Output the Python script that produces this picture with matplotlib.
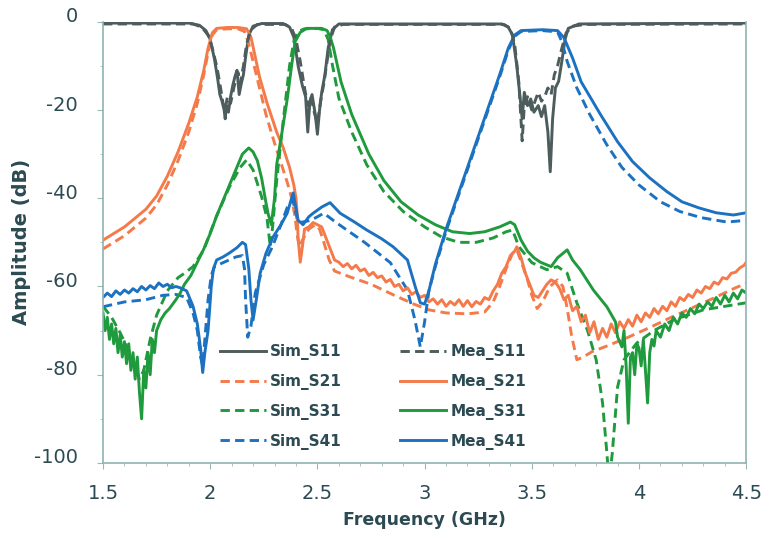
import matplotlib
matplotlib.use("Agg")
import matplotlib.pyplot as plt
from matplotlib.ticker import MultipleLocator
from matplotlib.transforms import ScaledTranslation

# ---------------- data (GHz, dB) ----------------
sim_s11_f = [1.50, 1.90, 1.95, 1.98, 2.00, 2.02, 2.035, 2.045, 2.055, 2.065, 2.07, 2.075, 2.085, 2.095, 2.105,
             2.115, 2.125, 2.135, 2.145, 2.155, 2.165, 2.18, 2.20, 2.24, 2.34, 2.37, 2.39, 2.41, 2.43, 2.445,
             2.455, 2.465, 2.475, 2.49, 2.50, 2.51, 2.52, 2.535, 2.55, 2.57, 2.60, 3.36, 3.39, 3.41, 3.43,
             3.445, 3.455, 3.465, 3.48, 3.495, 3.51, 3.53, 3.545, 3.56, 3.575, 3.586, 3.597, 3.61, 3.625,
             3.64, 3.655, 3.67, 3.72, 4.50]
sim_s11_db = [-0.3, -0.3, -0.8, -2, -4, -8.5, -13, -16.5, -18, -20, -22, -19, -20.5, -17, -14.5,
              -12.5, -11, -16.5, -14, -12, -8, -3, -1, -0.4, -0.4, -1.2, -3.5, -10, -14.5, -17,
              -25, -18, -16.5, -21, -25.5, -20, -16, -12, -6, -1.8, -0.5, -0.5, -1.2, -3, -10,
              -17, -22, -16, -19, -17.5, -20.5, -19, -21.5, -19, -25, -34, -22, -15, -13.5,
              -9, -4, -1.5, -0.5, -0.3]

mea_s11_f = [1.50, 1.92, 1.96, 1.99, 2.01, 2.03, 2.045, 2.06, 2.07, 2.08, 2.095, 2.11, 2.12, 2.13, 2.14,
             2.155, 2.17, 2.19, 2.22, 2.35, 2.38, 2.40, 2.42, 2.44, 2.455, 2.47, 2.485, 2.50, 2.515, 2.53,
             2.545, 2.56, 2.58, 2.62, 3.37, 3.40, 3.42, 3.44, 3.455, 3.465, 3.48, 3.50, 3.515, 3.53,
             3.545, 3.56, 3.575, 3.59, 3.605, 3.62, 3.64, 3.66, 3.69, 3.75, 4.50]
mea_s11_db = [-0.5, -0.5, -1.2, -3, -6, -10, -14, -18.5, -20, -17, -18.5, -15, -13, -11.5, -14,
              -10, -5, -1.8, -0.6, -0.6, -1.5, -4, -9, -15, -19, -17, -20.5, -23, -18, -14,
              -9, -4, -1.2, -0.6, -0.6, -1.5, -5, -14, -27, -19, -17, -20, -18, -16,
              -18, -17, -15, -16.5, -12, -10, -6, -2.5, -1, -0.6, -0.5]

sim_s21_f = [1.50, 1.55, 1.60, 1.65, 1.70, 1.75, 1.80, 1.85, 1.90, 1.94, 1.97, 1.99, 2.01, 2.03, 2.08,
             2.13, 2.16, 2.18, 2.20, 2.23, 2.26, 2.30, 2.33, 2.36, 2.38, 2.395, 2.405, 2.415, 2.43, 2.46,
             2.49, 2.51, 2.53, 2.555, 2.58, 2.65, 2.75, 2.85, 2.95, 3.02, 3.10, 3.20, 3.28, 3.32, 3.35,
             3.38, 3.41, 3.43, 3.455, 3.48, 3.50, 3.525, 3.55, 3.585, 3.62, 3.645, 3.665, 3.685, 3.71,
             3.74, 3.78, 3.85, 3.95, 4.05, 4.15, 4.25, 4.35, 4.45, 4.50]
sim_s21_db = [-51.5, -50, -48.5, -46.5, -44.5, -41.5, -37, -31.5, -25, -18.5, -12, -7, -3, -1.8, -1.6,
              -1.6, -2.2, -5, -9, -15, -21, -27.5, -32, -36.5, -40, -44, -48, -51, -49.5, -47,
              -46, -47, -50, -54, -56.5, -57.8, -59.5, -61.8, -64, -65.3, -66, -66.2, -65.8, -63.5, -60,
              -56, -52.5, -51.7, -55, -58.5, -62, -65, -63.5, -60, -58.5, -60, -65, -71, -76.6,
              -76, -74.8, -73.5, -71.5, -69.3, -67, -64.8, -62.6, -60.3, -59.3]

mea_s21_f = [1.50, 1.55, 1.60, 1.65, 1.70, 1.75, 1.80, 1.85, 1.90, 1.94, 1.97, 1.99, 2.01, 2.03, 2.08,
             2.13, 2.17, 2.19, 2.20, 2.23, 2.265, 2.31, 2.34, 2.37, 2.39, 2.40, 2.405, 2.41, 2.42, 2.43,
             2.44, 2.46, 2.48, 2.50, 2.52, 2.54, 2.56, 2.58, 2.60, 2.62, 2.64, 2.66, 2.68, 2.70, 2.72,
             2.74, 2.76, 2.78, 2.80, 2.82, 2.84, 2.86, 2.88, 2.90, 2.92, 2.94, 2.96, 2.98, 3.00, 3.02,
             3.04, 3.06, 3.08, 3.10, 3.12, 3.14, 3.16, 3.18, 3.20, 3.22, 3.24, 3.26, 3.28, 3.30, 3.32,
             3.34, 3.36, 3.38, 3.40, 3.42, 3.43, 3.45, 3.47, 3.49, 3.51, 3.53, 3.55, 3.57, 3.59, 3.61,
             3.63, 3.65, 3.67, 3.69, 3.71, 3.73, 3.75, 3.77, 3.79, 3.81, 3.83, 3.85, 3.87, 3.89, 3.91,
             3.93, 3.95, 3.97, 3.99, 4.01, 4.03, 4.05, 4.07, 4.09, 4.11, 4.13, 4.15, 4.17, 4.19, 4.21,
             4.23, 4.25, 4.27, 4.29, 4.31, 4.33, 4.35, 4.37, 4.39, 4.41, 4.43, 4.45, 4.47, 4.49, 4.50]
mea_s21_db = [-49.5, -48, -46.5, -44.5, -42.5, -39.5, -35, -29.5, -23, -17, -11, -6, -2.5, -1.5, -1.3,
              -1.3, -1.6, -3.5, -5.7, -12.5, -18.4, -25, -28.5, -33, -37, -40, -43, -49, -54.5, -51,
              -47, -46.5, -45.5, -46, -46.5, -49, -51.5, -54, -54.5, -55.5, -54.8, -56, -55.2, -56.5, -56,
              -57.5, -56.8, -58, -57.6, -59, -58.4, -60, -59.5, -61, -60.3, -61.8, -61.2, -62.5, -62, -63.5,
              -62.8, -64, -63, -64.5, -63.4, -64.2, -63, -64.5, -63.2, -64.6, -63.4, -64, -62.5, -63, -61,
              -59.5, -57, -55.5, -53, -52, -51, -53.5, -57, -59.5, -62, -62.5, -61, -59.5, -58.5, -59,
              -60.5, -63, -62, -65.5, -64.5, -68, -66.5, -70.5, -68, -72, -69.5, -71.5, -68.5, -70.5, -68,
              -69.5, -67.5, -69, -66.5, -68, -66, -67, -65, -66.2, -64.5, -65.5, -63.5, -64.5, -62.5, -63.2,
              -61.8, -62.5, -60.8, -61.5, -60, -60.5, -59, -59.5, -58, -58.3, -57, -56.8, -55.8, -55.2, -54.5]

sim_s31_f = [1.50, 1.54, 1.58, 1.62, 1.65, 1.67, 1.69, 1.72, 1.75, 1.80, 1.85, 1.88, 1.92, 1.97, 2.03,
             2.09, 2.14, 2.17, 2.20, 2.24, 2.265, 2.28, 2.29, 2.31, 2.33, 2.35, 2.37, 2.39, 2.41, 2.44,
             2.50, 2.53, 2.55, 2.57, 2.60, 2.66, 2.73, 2.81, 2.90, 3.00, 3.08, 3.16, 3.24, 3.32, 3.38,
             3.41, 3.44, 3.50, 3.57, 3.62, 3.665, 3.71, 3.76, 3.80, 3.83, 3.85, 3.86, 3.875, 3.90, 3.93,
             3.99, 4.07, 4.16, 4.30, 4.50]
sim_s31_db = [-64.5, -67, -70.5, -74.5, -78, -81, -79, -72, -66.5, -61, -58, -57, -55.5, -51.7, -44,
              -37.4, -33, -31.3, -33.6, -39.7, -44.5, -51, -47, -36, -27, -18.5, -10, -4.5, -2.2, -1.6,
              -1.5, -1.8, -4, -9.8, -17.3, -25, -32.4, -38.5, -43, -46.5, -48.8, -50, -50, -49, -47.6,
              -47.2, -51, -54.6, -56.2, -55.5, -57, -63.7, -70, -76.6, -86.4, -97.7, -104, -98, -82.8, -76.6,
              -72.8, -70, -67.6, -65.3, -63.7]

mea_s31_f = [1.50, 1.51, 1.52, 1.53, 1.54, 1.55, 1.56, 1.57, 1.58, 1.59, 1.60, 1.61, 1.62, 1.63, 1.64,
             1.65, 1.66, 1.67, 1.68, 1.69, 1.70, 1.71, 1.72, 1.73, 1.74, 1.75, 1.77, 1.79, 1.81, 1.84,
             1.86, 1.88, 1.91, 1.94, 1.97, 2.00, 2.03, 2.06, 2.09, 2.12, 2.15, 2.18, 2.20, 2.22, 2.24,
             2.26, 2.27, 2.285, 2.30, 2.31, 2.335, 2.36, 2.38, 2.396, 2.42, 2.45, 2.52, 2.545, 2.56,
             2.575, 2.61, 2.66, 2.74, 2.81, 2.89, 2.97, 3.05, 3.13, 3.21, 3.28, 3.35, 3.40, 3.42, 3.45,
             3.48, 3.51, 3.54, 3.59, 3.62, 3.665, 3.69, 3.726, 3.787, 3.85, 3.89, 3.90, 3.92, 3.93, 3.94,
             3.95, 3.96, 3.97, 3.98, 3.99, 4.00, 4.01, 4.02, 4.03, 4.04, 4.05, 4.06, 4.07, 4.08, 4.10,
             4.12, 4.14, 4.16, 4.18, 4.20, 4.22, 4.24, 4.26, 4.28, 4.30, 4.32, 4.34, 4.36, 4.38, 4.40,
             4.42, 4.44, 4.46, 4.48, 4.50]
mea_s31_db = [-66, -70, -67, -72, -68.5, -73, -69.5, -75, -71, -76, -72.5, -77.5, -73, -79, -75,
              -81, -76, -84, -90, -79, -83, -75, -80, -72, -75, -70, -67.5, -66, -65, -63,
              -61.5, -59.5, -57.5, -54.5, -51.5, -48, -44, -40.5, -37, -33.5, -30, -28.6, -29.5, -31.5, -35.5,
              -41, -43.5, -46, -40, -32.4, -25, -17.3, -9.8, -4.5, -2.4, -1.5, -1.5, -2, -3.5,
              -5.9, -13.6, -21, -30, -36, -40.8, -43.8, -46, -47.6, -48, -47.6, -46.5, -45.4, -46, -49.5,
              -52, -53.5, -54.5, -55.5, -53.5, -51.7, -54, -56.2, -60.8, -64.6, -68, -71.4, -73.7, -70, -78,
              -91, -76, -75, -80, -73, -74, -78, -72, -79, -86.4, -75, -72, -73.5, -70, -71.5,
              -68.5, -70, -67, -68.5, -66, -67, -65, -66.2, -64, -65, -63.5, -64.5, -62.5, -64, -62,
              -63.5, -61.5, -62.8, -60.8, -61.5]

sim_s41_f = [1.50, 1.60, 1.70, 1.78, 1.84, 1.89, 1.92, 1.94, 1.955, 1.965, 1.975, 1.99, 2.005, 2.02, 2.06,
             2.12, 2.15, 2.16, 2.165, 2.175, 2.19, 2.21, 2.25, 2.29, 2.33, 2.36, 2.385, 2.41, 2.47, 2.53,
             2.59, 2.72, 2.84, 2.92, 2.955, 2.98, 3.00, 3.02, 3.05, 3.10, 3.15, 3.20, 3.25, 3.30, 3.35,
             3.39, 3.42, 3.45, 3.55, 3.62, 3.64, 3.665, 3.71, 3.77, 3.85, 3.92, 4.00, 4.10, 4.19, 4.29,
             4.41, 4.50]
sim_s41_db = [-64.6, -63.5, -63, -62, -61.8, -62.5, -66, -70, -76, -78, -72, -63, -57.5, -55.5, -54.6,
              -53.3, -53, -56, -63, -71.5, -69, -61.5, -55, -51, -46, -42, -40.4, -45.6, -45, -43.4,
              -45.6, -50, -54.6, -60.8, -67.6, -73.7, -68, -61, -55.5, -47.5, -40.5, -33.5, -26.5, -19.5, -12.5,
              -6.5, -3.3, -2.2, -2, -2.3, -4.5, -9, -15, -21, -27.9, -33, -37, -40.8, -43, -44.4,
              -45.4, -45]

mea_s41_f = [1.50, 1.52, 1.54, 1.56, 1.58, 1.60, 1.62, 1.64, 1.66, 1.68, 1.70, 1.72, 1.74, 1.76, 1.78,
             1.80, 1.82, 1.84, 1.86, 1.89, 1.92, 1.94, 1.955, 1.965, 1.975, 1.99, 2.005, 2.015, 2.03, 2.06,
             2.09, 2.125, 2.15, 2.165, 2.18, 2.19, 2.20, 2.215, 2.233, 2.26, 2.293, 2.33, 2.359, 2.387,
             2.41, 2.433, 2.46, 2.48, 2.52, 2.559, 2.606, 2.67, 2.73, 2.80, 2.853, 2.92, 2.956, 2.98,
             3.00, 3.02, 3.05, 3.10, 3.15, 3.20, 3.25, 3.30, 3.35, 3.39, 3.42, 3.45, 3.55, 3.62, 3.65,
             3.69, 3.73, 3.82, 3.90, 3.97, 4.05, 4.13, 4.20, 4.28, 4.36, 4.44, 4.50]
mea_s41_db = [-62.5, -61.5, -62.3, -61, -61.8, -60.8, -61.5, -60.5, -61.2, -60, -60.8, -59.8, -60.5, -59.2, -60,
              -59.5, -60.3, -60, -60.3, -61, -64.5, -68.5, -74, -79.5, -75, -70, -60, -56, -54, -53.3,
              -52.4, -51.2, -50, -50.5, -56, -63, -67.6, -63, -57, -52.5, -48.8, -46, -43.4, -38.8,
              -45, -46, -44.2, -43.4, -42, -41, -43.4, -45.3, -47.2, -49.2, -51, -54, -60, -63.7,
              -64, -61, -55, -47, -40, -33, -26, -19, -12, -6, -3, -2, -1.8, -2, -3.6,
              -8.2, -13.6, -21, -27.2, -31.7, -35.4, -38.5, -40.8, -42.2, -43.3, -43.8, -43.3]

x_ticks = [1.5, 2, 2.5, 3, 3.5, 4, 4.5]
x_tick_labels = ["1.5", "2", "2.5", "3", "3.5", "4", "4.5"]
y_ticks = [0, -20, -40, -60, -80, -100]
y_tick_labels = ["0", "-20", "-40", "-60", "-80", "-100"]

# ---------------- style ----------------
C11 = "#4d5c5c"
C21 = "#f47a4a"
C31 = "#1f9a3c"
C41 = "#1c72c0"
TXT = "#2c4a52"
LW = 2.1
DASH = (0, (3.2, 1.8))

fig = plt.figure(figsize=(7.63, 5.44), dpi=100)
ax = fig.add_axes([0.135, 0.149, 0.843, 0.811])

h_sim11, = ax.plot(sim_s11_f, sim_s11_db, color=C11, lw=LW, ls="-", label="Sim_S11")
h_sim21, = ax.plot(sim_s21_f, sim_s21_db, color=C21, lw=LW, ls=DASH, label="Sim_S21")
h_sim31, = ax.plot(sim_s31_f, sim_s31_db, color=C31, lw=LW, ls=DASH, label="Sim_S31")
h_sim41, = ax.plot(sim_s41_f, sim_s41_db, color=C41, lw=LW, ls=DASH, label="Sim_S41")
h_mea21, = ax.plot(mea_s21_f, mea_s21_db, color=C21, lw=LW, ls="-", label="Mea_S21")
h_mea31, = ax.plot(mea_s31_f, mea_s31_db, color=C31, lw=LW, ls="-", label="Mea_S31")
h_mea41, = ax.plot(mea_s41_f, mea_s41_db, color=C41, lw=LW, ls="-", label="Mea_S41")
h_mea11, = ax.plot(mea_s11_f, mea_s11_db, color=C11, lw=LW, ls=DASH, label="Mea_S11")

ax.set_xlim(1.5, 4.5)
ax.set_ylim(-100, 0)
ax.set_xticks(x_ticks)
ax.set_xticklabels(x_tick_labels)
ax.set_yticks(y_ticks)
ax.set_yticklabels(y_tick_labels)
ax.xaxis.set_minor_locator(MultipleLocator(0.1))
ax.yaxis.set_minor_locator(MultipleLocator(10))
ax.tick_params(which="both", direction="out", color="#9ab8b8", labelcolor=TXT, labelsize=14)
ax.tick_params(which="major", length=4)
ax.tick_params(axis="x", which="major", pad=11)
ax.tick_params(axis="y", which="major", pad=14)
ax.tick_params(which="minor", length=2.5)
for lab in ax.get_yticklabels():
    lab.set_transform(lab.get_transform() + ScaledTranslation(0, 5 / 72, fig.dpi_scale_trans))

for side in ["left", "bottom", "right"]:
    ax.spines[side].set_color("#8fb3b3")
    ax.spines[side].set_linewidth(1.2)
ax.spines["top"].set_visible(False)

ax.set_xlabel("Frequency (GHz)", fontsize=12.5, fontweight="bold", color=TXT, labelpad=6)
ax.set_ylabel("Amplitude (dB)", fontsize=14, fontweight="bold", color=TXT, labelpad=2)

handles = [h_sim11, h_sim21, h_sim31, h_sim41, h_mea11, h_mea21, h_mea31, h_mea41]
leg = ax.legend(handles=handles, labels=[h.get_label() for h in handles], ncol=2,
                loc="upper left", bbox_to_anchor=(0.16, 0.30), frameon=False,
                handlelength=3.0, handletextpad=0.3, columnspacing=3.8, labelspacing=0.9,
                prop={"weight": "bold", "size": 11})
for t in leg.get_texts():
    t.set_color(TXT)

fig.savefig("out.png", dpi=100)
